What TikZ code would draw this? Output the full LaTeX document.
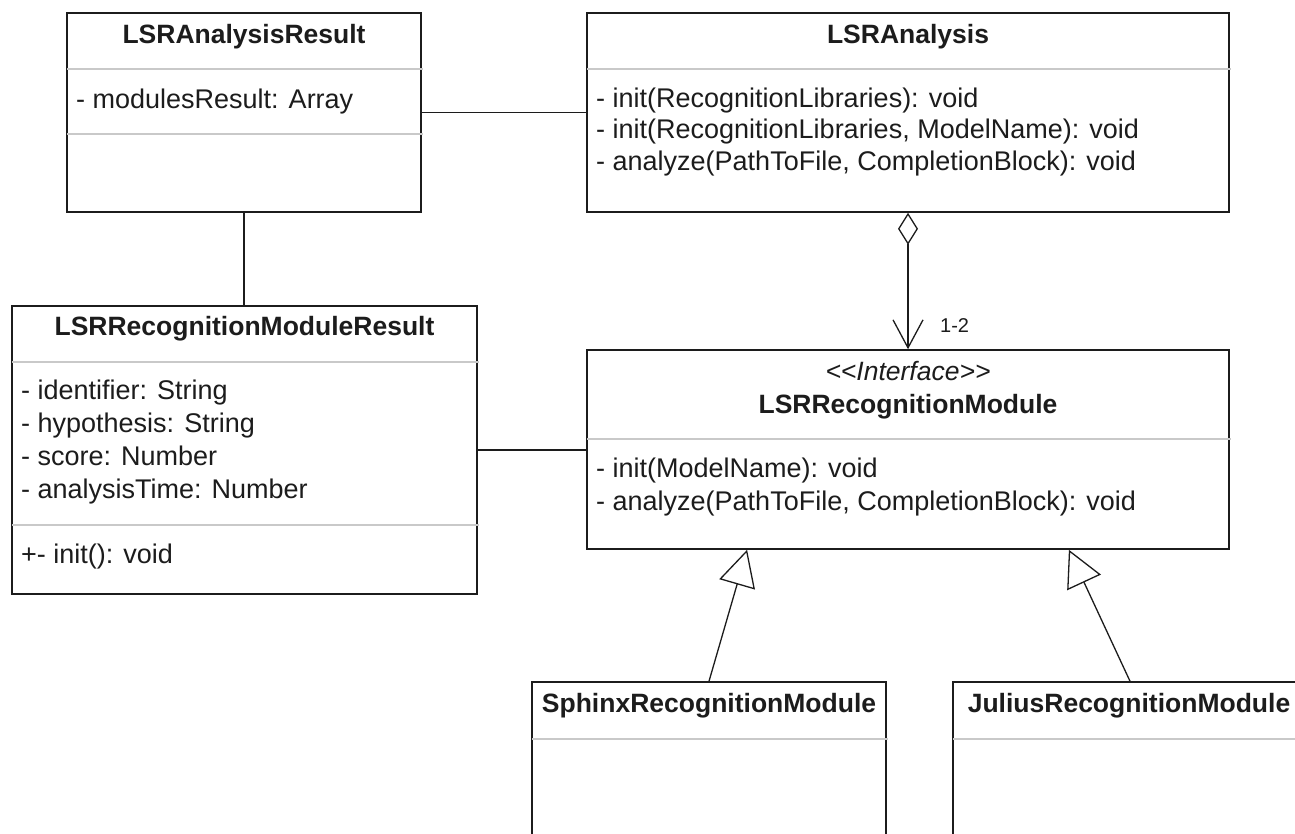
\documentclass[tikz,border=0pt]{standalone}
\usepackage{fontspec}
\setmainfont{Liberation Sans}
\usetikzlibrary{arrows.meta,calc}
\definecolor{ink}{HTML}{1C1C1C}
\definecolor{divgray}{HTML}{C9C9C9}
\begin{document}
\begin{tikzpicture}[x=1pt,y=-1pt,
  box/.style={draw=ink, line width=1.6pt, fill=white, inner sep=0pt, rectangle},
  title/.style={font=\fontsize{26.5}{30}\selectfont\bfseries, text=ink, anchor=base, inner sep=0pt},
  stereo/.style={font=\fontsize{26.5}{30}\selectfont\itshape, text=ink, anchor=base, inner sep=0pt},
  member/.style={font=\fontsize{27}{33}\selectfont, text=ink, anchor=base west, inner sep=0pt},
  multlabel/.style={font=\fontsize{20}{24}\selectfont, text=ink, anchor=base west, inner sep=0pt},
  divider/.style={draw=divgray, line width=2.2pt},
  link/.style={draw=ink, line width=1.3pt},
]
\path[use as bounding box] (0,0) rectangle (1295,833);
\clip (0,0) rectangle (1295,833);
\fill[white] (0,0) rectangle (1295,833);

% boxes
\node[box, minimum width=354pt, minimum height=199pt] (ar) at (244,112.5) {};
\node[box, minimum width=642pt, minimum height=199pt] (an) at (908,112.5) {};
\node[box, minimum width=465pt, minimum height=288pt] (rmr) at (244.5,450) {};
\node[box, minimum width=642pt, minimum height=199pt] (rm) at (908,449.5) {};
\node[box, minimum width=354pt, minimum height=240pt] (sp) at (709,802) {};
\node[box, minimum width=354pt, minimum height=240pt] (ju) at (1130,802) {};

% dividers
\draw[divider] ([xshift=0.8pt]ar.west |- 0,69) -- ([xshift=0.8pt]ar.east |- 0,69);
\draw[divider] ([xshift=0.8pt]ar.west |- 0,134) -- ([xshift=0.8pt]ar.east |- 0,134);
\draw[divider] ([xshift=0.8pt]an.west |- 0,69) -- ([xshift=0.8pt]an.east |- 0,69);
\draw[divider] ([xshift=0.8pt]rmr.west |- 0,362) -- ([xshift=0.8pt]rmr.east |- 0,362);
\draw[divider] ([xshift=0.8pt]rmr.west |- 0,525) -- ([xshift=0.8pt]rmr.east |- 0,525);
\draw[divider] ([xshift=0.8pt]rm.west |- 0,439) -- ([xshift=0.8pt]rm.east |- 0,439);
\draw[divider] ([xshift=0.8pt]sp.west |- 0,739) -- ([xshift=0.8pt]sp.east |- 0,739);
\draw[divider] ([xshift=0.8pt]ju.west |- 0,739) -- ([xshift=0.8pt]ju.east |- 0,739);

% texts
\node[title] (arT) at (244,43) {LSRAnalysisResult};
\node[member] (arA) at (76,108) {- modulesResult: Array};

\node[title] (anT) at (908,43) {LSRAnalysis};
\node[member] (anM1) at (596,107) {- init(RecognitionLibraries): void};
\node[member] (anM2) at (596,138.5) {- init(RecognitionLibraries, ModelName): void};
\node[member] (anM3) at (596,170) {- analyze(PathToFile, CompletionBlock): void};

\node[title] (rmrT) at (244.5,335) {LSRRecognitionModuleResult};
\node[member] (rmrA1) at (21,399) {- identifier: String};
\node[member] (rmrA2) at (21,432) {- hypothesis: String};
\node[member] (rmrA3) at (21,465) {- score: Number};
\node[member] (rmrA4) at (21,498) {- analysisTime: Number};
\node[member] (rmrM1) at (21,563) {+- init(): void};

\node[stereo] (rmS) at (908,380) {{<}{<}Interface{>}{>}};
\node[title] (rmT) at (908,413) {LSRRecognitionModule};
\node[member] (rmM1) at (596,477) {- init(ModelName): void};
\node[member] (rmM2) at (596,510) {- analyze(PathToFile, CompletionBlock): void};

\node[title] (spT) at (709,712) {SphinxRecognitionModule};
\node[title] (juT) at (1129,712) {JuliusRecognitionModule};

% connectors
\draw[link] (ar.east) -- (an.west);
\draw[link] (ar.south) -- (ar.south |- rmr.north);
\draw[link] (rmr.east) -- (rmr.east -| rm.west);
\draw[link, {Diamond[open,length=32pt,width=20pt]}-{Straight Barb[length=28pt,width=30pt]}] (an.south) -- (rm.north);
\node[multlabel] (mult) at (940,332) {1-2};

\coordinate (g1) at ($(rm.south west)!0.25!(rm.south east)$);
\coordinate (g2) at ($(rm.south west)!0.75!(rm.south east)$);
\draw[link, -{Triangle[open,length=36pt,width=37pt]}] (sp.north) -- (g1);
\draw[link, -{Triangle[open,length=36pt,width=37pt]}] (ju.north) -- (g2);
\end{tikzpicture}
\end{document}
